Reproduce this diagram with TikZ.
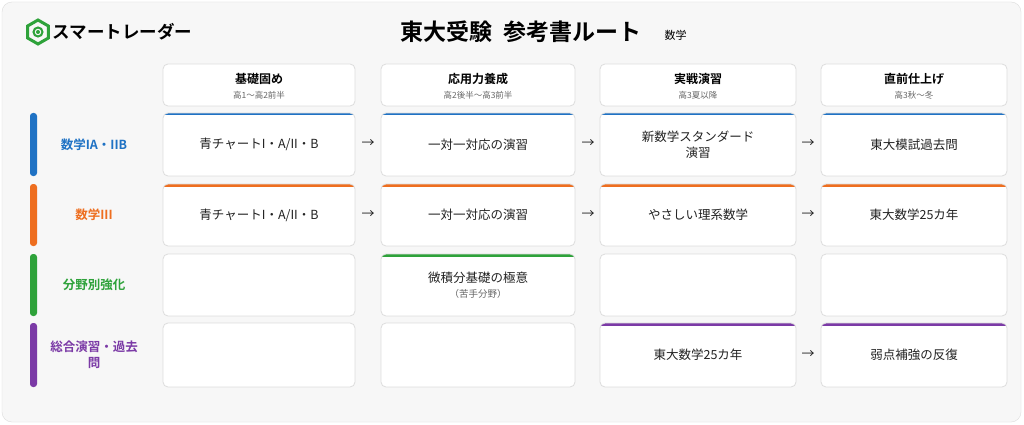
\documentclass[tikz,border=0pt]{standalone}
\usepackage{fontspec}
\usetikzlibrary{shapes.geometric}
\setmainfont{Noto Sans CJK JP}
\newfontfamily\jpb{Noto Sans CJK JP Bold}
\definecolor{cblue}{HTML}{1F72C4}
\definecolor{corange}{HTML}{EE6E1F}
\definecolor{cgreen}{HTML}{2EA23A}
\definecolor{cpurple}{HTML}{7B3AA6}
\definecolor{bord}{HTML}{DDDDDD}
\definecolor{txt}{HTML}{222222}
\begin{document}
\begin{tikzpicture}[x=1pt,y=-1pt,
  cell/.style={draw=bord,line width=0.8pt,rounded corners=5pt,fill=white},
  ctext/.style={font=\fontsize{12.5}{16}\selectfont,text=txt,align=center},
  arr/.style={font=\fontsize{13}{15}\selectfont,text=txt},
  lab/.style={font=\jpb\fontsize{12.5}{16}\selectfont,align=center,text width=100pt}]
\useasboundingbox (0,0) rectangle (1024,425);
\fill[white] (0,0) rectangle (1024,425);
\draw[bord,fill=white!97!black,rounded corners=10pt] (2,2) rectangle (1021,422);
% logo
\node[regular polygon,regular polygon sides=6,shape border rotate=30,draw=cgreen,line width=3pt,minimum size=24pt,inner sep=0] (hex) at (38,32) {};
\node[circle,draw=cgreen,line width=2pt,minimum size=9pt,inner sep=0] (hc) at (38,32) {};
\fill[cgreen] (38,32) circle (2pt);
\node[font=\jpb\fontsize{17.5}{20}\selectfont,anchor=west] (logo) at (49,32) {スマートレーダー};
\node[font=\jpb\fontsize{23}{26}\selectfont] (title) at (521,32) {東大受験\hspace{0.45em}参考書ルート};
\node[font=\fontsize{11}{13}\selectfont,anchor=west] (sub) at (661,35) {数学};
% columns
\foreach \n/\a/\b/\h/\s in {c1/163/355/基礎固め/高1〜高2前半,c2/381/575/応用力養成/高2後半〜高3前半,c3/600/796/実戦演習/高3夏以降,c4/821/1007/直前仕上げ/高3秋〜冬}{
  \draw[cell] (\a,64) rectangle (\b,106);
  \node[font=\jpb\fontsize{12}{14}\selectfont] (\n h) at ({(\a+\b)/2},79) {\h};
  \node[font=\fontsize{8.5}{10}\selectfont,text=black!60] (\n s) at ({(\a+\b)/2},95) {\s};
}
% row labels
\foreach \n/\t/\bt/\c/\l in {r1/113/176/cblue/数学IA・IIB,r2/184/246/corange/数学III,r3/254/316/cgreen/分野別強化,r4/323/387/cpurple/総合演習・過去\\問}{
  \fill[\c,rounded corners=3pt] (30,\t) rectangle (37,\bt);
  \node[lab,text=\c] (\n l) at (94,{(\t+\bt)/2}) {\l};
}
\newcommand\mycell[7]{%
  \begin{scope}
  \clip[rounded corners=5pt] (#2,#4) rectangle (#3,#5);
  \fill[white] (#2,#4) rectangle (#3,#5);
  \ifx#6n\else\fill[#6] (#2,#4) rectangle (#3,{#4+2.5});\fi
  \end{scope}
  \draw[draw=bord,line width=0.8pt,rounded corners=5pt] (#2,#4) rectangle (#3,#5);
  \node[ctext] (#1) at ({(#2+#3)/2},{(#4+#5)/2}) {#7};
}
\mycell{a1}{163}{355}{113}{176}{cblue}{青チャートI・A/II・B}
\mycell{a2}{381}{575}{113}{176}{cblue}{一対一対応の演習}
\mycell{a3}{600}{796}{113}{176}{cblue}{新数学スタンダード\\演習}
\mycell{a4}{821}{1007}{113}{176}{cblue}{東大模試過去問}
\mycell{b1}{163}{355}{184}{246}{corange}{青チャートI・A/II・B}
\mycell{b2}{381}{575}{184}{246}{corange}{一対一対応の演習}
\mycell{b3}{600}{796}{184}{246}{corange}{やさしい理系数学}
\mycell{b4}{821}{1007}{184}{246}{corange}{東大数学25カ年}
\mycell{g1}{163}{355}{254}{316}{n}{}
\mycell{g2}{381}{575}{254}{316}{cgreen}{微積分基礎の極意\\[-1pt]{\fontsize{9.5}{11}\selectfont\color{black!60}（苦手分野）}}
\mycell{g3}{600}{796}{254}{316}{n}{}
\mycell{g4}{821}{1007}{254}{316}{n}{}
\mycell{p1}{163}{355}{323}{387}{n}{}
\mycell{p2}{381}{575}{323}{387}{n}{}
\mycell{p3}{600}{796}{323}{387}{cpurple}{東大数学25カ年}
\mycell{p4}{821}{1007}{323}{387}{cpurple}{弱点補強の反復}
\node[arr] (x1) at (368,144) {→};
\node[arr] (x2) at (588,144) {→};
\node[arr] (x3) at (808,144) {→};
\node[arr] (x4) at (368,215) {→};
\node[arr] (x5) at (588,215) {→};
\node[arr] (x6) at (808,215) {→};
\node[arr] (x7) at (808,355) {→};
\end{tikzpicture}
\end{document}
